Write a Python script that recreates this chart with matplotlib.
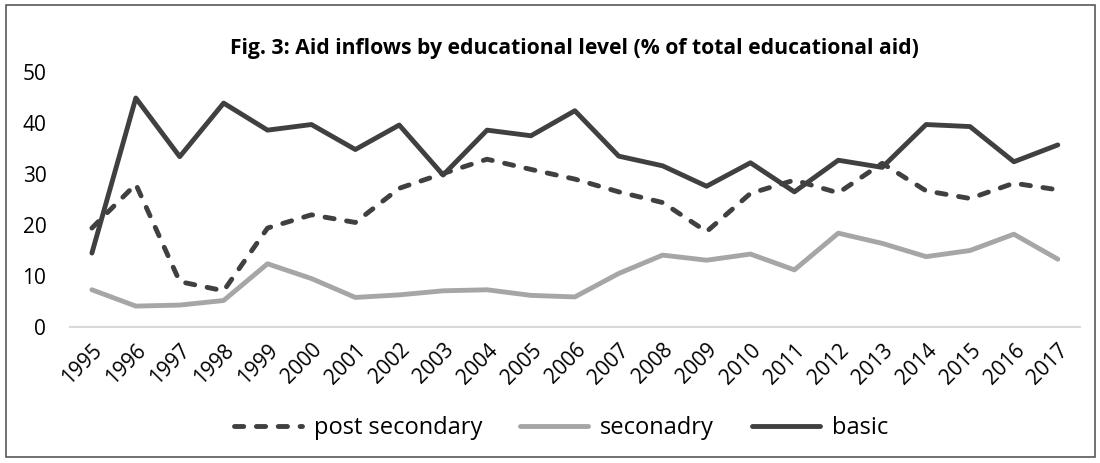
import matplotlib.pyplot as plt
from matplotlib.patches import Rectangle

years = [str(y) for y in range(1995, 2018)]
post_secondary = [19.4, 28.0, 8.9, 7.1, 19.4, 22.0, 20.5, 27.2, 30.1, 32.9, 30.9, 29.0,
                  26.5, 24.4, 18.7, 26.2, 28.8, 26.3, 32.1, 26.7, 25.2, 28.2, 26.9]
secondary = [7.3, 4.1, 4.3, 5.2, 12.4, 9.5, 5.8, 6.3, 7.1, 7.3, 6.2, 5.9,
             10.5, 14.1, 13.1, 14.3, 11.2, 18.4, 16.4, 13.8, 15.0, 18.2, 13.3]
basic = [14.5, 44.9, 33.4, 43.9, 38.6, 39.7, 34.8, 39.6, 29.8, 38.6, 37.5, 42.4,
         33.5, 31.6, 27.6, 32.2, 26.5, 32.7, 31.3, 39.7, 39.3, 32.4, 35.7]

plt.rcParams['font.family'] = ['Open Sans', 'DejaVu Sans']

fig = plt.figure(figsize=(11, 4.63), dpi=100)
ax = fig.add_axes([0.0636, 0.2937, 0.918, 0.5508])

x = range(len(years))
dark = '#404040'
ax.plot(x, post_secondary, color=dark, lw=3.5, ls=(0, (1.9, 2.6)),
        dash_capstyle='round', label='post secondary')
ax.plot(x, secondary, color='#a6a6a6', lw=3.5, solid_capstyle='round', label='seconadry')
ax.plot(x, basic, color=dark, lw=3.5, solid_capstyle='round', label='basic')

ax.set_xlim(-0.5, len(years) - 0.5)
ax.set_ylim(0, 50)
ax.set_yticks(range(0, 51, 10))
ax.set_xticks(list(x))
ax.set_xticklabels(years, rotation=45, ha='right', va='top', rotation_mode='anchor')
ax.tick_params(length=0, labelsize=15, colors='black')
ax.tick_params(axis='x', pad=9)
ax.tick_params(axis='y', pad=17)
for s in ['top', 'right', 'left']:
    ax.spines[s].set_visible(False)
ax.spines['bottom'].set_color('#d9d9d9')
ax.spines['bottom'].set_linewidth(1.5)

fig.text(0.522, 0.895, 'Fig. 3: Aid inflows by educational level (% of total educational aid)',
         ha='center', va='center', fontsize=15.2, fontweight='bold')

fig.legend(loc='center', bbox_to_anchor=(0.51, 0.075), ncol=3, frameon=False,
           fontsize=17, handlelength=2.9, columnspacing=1.6, handletextpad=0.5)

fig.patches.append(Rectangle((0.005, 0.012), 0.99, 0.977, transform=fig.transFigure,
                             fill=False, edgecolor='#595959', lw=1.2))

fig.savefig('out.png', dpi=100)
